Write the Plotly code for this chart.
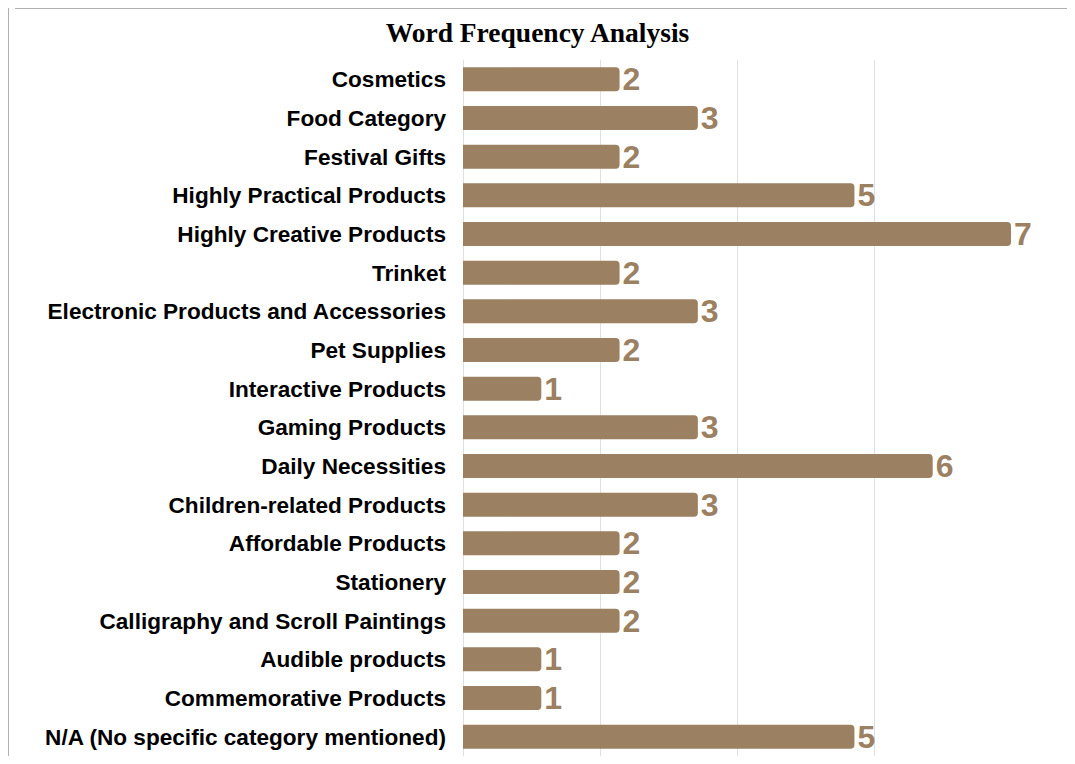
import plotly.graph_objects as go

categories = [
    "Cosmetics", "Food Category", "Festival Gifts", "Highly Practical Products",
    "Highly Creative Products", "Trinket", "Electronic Products and Accessories",
    "Pet Supplies", "Interactive Products", "Gaming Products", "Daily Necessities",
    "Children-related Products", "Affordable Products", "Stationery",
    "Calligraphy and Scroll Paintings", "Audible products", "Commemorative Products",
    "N/A (No specific category mentioned)",
]
counts = [2, 3, 2, 5, 7, 2, 3, 2, 1, 3, 6, 3, 2, 2, 2, 1, 1, 5]

bar_color = "#9B8062"

# page offset (browser body margin) compensation
OFF = 8
W, H = 1075 - 2 * OFF, 764 - 2 * OFF
L, R, T, B = 463 - OFF, 1011 - OFF, 60 - OFF, H

def px_x(p):
    return (p - L) / (R - L)

def px_y(p):
    return (B - p) / (B - T)

fig = go.Figure(go.Bar(
    x=counts, y=categories, orientation="h",
    marker=dict(color=bar_color, line=dict(width=0)),
    text=[str(c) for c in counts], textposition="outside",
    texttemplate="<b>%{text}</b>",
    textfont=dict(family="Liberation Sans", size=32, color=bar_color),
    constraintext="none",
    cliponaxis=False, hoverinfo="skip",
))

fig.update_layout(
    width=W, height=H,
    margin=dict(l=L, r=W - R, t=T, b=H - B, autoexpand=False, pad=0),
    paper_bgcolor="white", plot_bgcolor="white",
    showlegend=False,
    bargap=0.38,
    barcornerradius=4,
    title=dict(text="<b>Word Frequency Analysis</b>", x=0.5, xref="container",
               xanchor="center", y=1 - (32 - OFF) / H, yanchor="middle", yref="container",
               font=dict(family="Liberation Serif", size=27.5, color="black")),
    xaxis=dict(range=[0, 7], dtick=1.75, tick0=0, showticklabels=False,
               showgrid=True, gridcolor="#e0e0e0", gridwidth=1,
               zeroline=True, zerolinecolor="#e0e0e0", zerolinewidth=1,
               showline=False, fixedrange=True),
    yaxis=dict(autorange="reversed", showgrid=False, showline=False,
               ticks="", ticklabelstandoff=16,
               tickfont=dict(family="Liberation Sans", size=22.6, color="black",
                             weight="bold"),
               fixedrange=True),
    shapes=[
        dict(type="line", xref="paper", yref="paper",
             x0=px_x(7), x1=px_x(1075 + 5), y0=px_y(7 - OFF + 1), y1=px_y(7 - OFF + 1),
             line=dict(color="#b0b0b0", width=2)),
        dict(type="line", xref="paper", yref="paper",
             x0=px_x(7 - OFF + 1), x1=px_x(7 - OFF + 1), y0=px_y(7 - OFF + 1), y1=px_y(H + 5),
             line=dict(color="#b0b0b0", width=2)),
    ],
)

fig.write_html("out.html")
